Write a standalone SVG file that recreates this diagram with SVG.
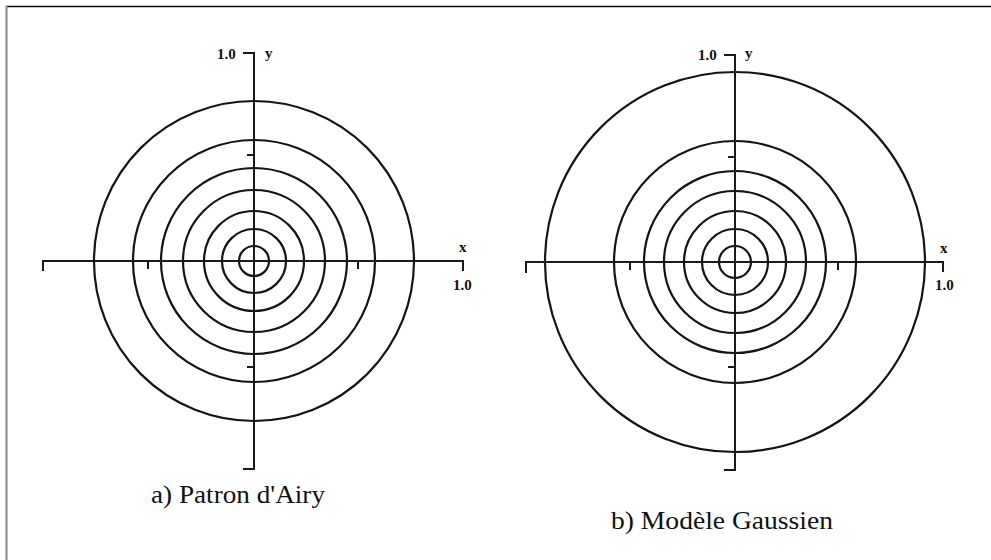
<svg xmlns="http://www.w3.org/2000/svg" width="991" height="560" viewBox="0 0 991 560">
<style>
.c{fill:none;stroke:#141414;stroke-width:2.2}
.ax{fill:none;stroke:#1a1a1a;stroke-width:2;stroke-linecap:square}
.lab{font-family:"Liberation Serif","Times New Roman",serif;font-weight:bold;font-size:15px;fill:#111}
.cap{font-family:"Liberation Serif","Times New Roman",serif;font-size:25px;fill:#111}
</style>
<rect x="0" y="0" width="991" height="560" fill="#fff"/>
<g id="frame">
<line x1="6" y1="6.5" x2="991" y2="6.5" stroke="#000" stroke-width="1.5"/>
<line x1="6.5" y1="6" x2="6.5" y2="560" stroke="#888" stroke-width="2"/>
</g>
<g id="airy">
<g id="airy-rings">
<circle class="c" cx="254" cy="261" r="15"/>
<circle class="c" cx="254" cy="261" r="32"/>
<circle class="c" cx="254" cy="261" r="50"/>
<circle class="c" cx="254" cy="261" r="71"/>
<circle class="c" cx="254" cy="261" r="93"/>
<circle class="c" cx="254" cy="261" r="121"/>
<circle class="c" cx="254" cy="261" r="160"/>
</g>
<g id="airy-axes">
<path class="ax" d="M43 270 V261 H463 V270"/>
<path class="ax" d="M148 261 V268 M358 261 V268"/>
<path class="ax" d="M244 53 H254 V469 H244"/>
<path class="ax" d="M248 155 H254 M248 367 H254"/>
</g>
<text class="lab" x="217" y="59">1.0</text>
<text class="lab" x="265" y="58">y</text>
<text class="lab" x="459" y="252">x</text>
<text class="lab" x="453" y="290">1.0</text>
<text class="cap" x="151" y="503" textLength="174" lengthAdjust="spacingAndGlyphs">a) Patron d'Airy</text>
</g>
<g id="gauss">
<g id="gauss-rings">
<circle class="c" cx="735" cy="262" r="16"/>
<circle class="c" cx="735" cy="262" r="33"/>
<circle class="c" cx="735" cy="262" r="51"/>
<circle class="c" cx="735" cy="262" r="71"/>
<circle class="c" cx="735" cy="262" r="91"/>
<circle class="c" cx="735" cy="262" r="121"/>
<circle class="c" cx="735" cy="262" r="190"/>
</g>
<g id="gauss-axes">
<path class="ax" d="M526 272 V262 H943 V271"/>
<path class="ax" d="M630 262 V269 M838 262 V269"/>
<path class="ax" d="M725 55 H735 V470 H725"/>
<path class="ax" d="M729 157 H735 M729 367 H735"/>
</g>
<text class="lab" x="698" y="60">1.0</text>
<text class="lab" x="745" y="58">y</text>
<text class="lab" x="940" y="253">x</text>
<text class="lab" x="935" y="290">1.0</text>
<text class="cap" x="611" y="529" textLength="222" lengthAdjust="spacingAndGlyphs">b) Modèle Gaussien</text>
</g>
</svg>
